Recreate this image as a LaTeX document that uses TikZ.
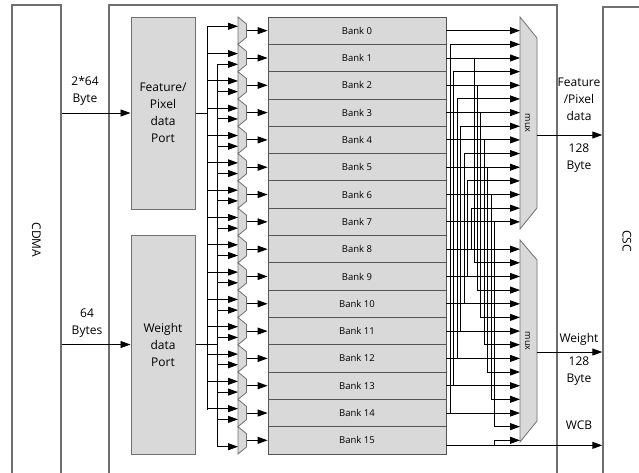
\documentclass[tikz,border=0pt]{standalone}
\usepackage{fontspec}
\setmainfont{Open Sans}
\usetikzlibrary{arrows.meta,calc}
\definecolor{fillg}{HTML}{D9D9D9}
\definecolor{edge}{HTML}{707070}
\definecolor{bedge}{HTML}{555555}
\begin{document}
\begin{tikzpicture}[x=1pt,y=-1pt,
  arr/.style={-{Triangle[length=10pt,width=7pt]}, line width=0.9pt, black},
  ln/.style={line width=0.9pt, black},
  outer/.style={draw=edge, line width=1.4pt, inner sep=0pt, font=\fontsize{12}{14}\selectfont},
  port/.style={draw=edge, line width=1pt, fill=fillg, minimum width=64pt, inner sep=0pt, align=center, font=\fontsize{12}{17}\selectfont},
  bank/.style={draw=bedge, line width=0.8pt, fill=fillg, minimum width=178pt, minimum height=27.3125pt, inner sep=0pt, font=\fontsize{9.5}{11}\selectfont},
  muxs/.style={draw=edge, line width=0.8pt, fill=fillg},
  muxl/.style={inner sep=0pt, font=\fontsize{9}{10}\selectfont},
  lbl/.style={align=center, font=\fontsize{12}{17}\selectfont, inner sep=0pt}
]
\clip (0,0) rectangle (639,472);
\useasboundingbox (0,0) rectangle (639,472);

% outer blocks
\node[outer, minimum width=49pt, minimum height=470pt] (cdma) at (36.5,240) {\rotatebox{-90}{CDMA}};
\node[outer, minimum width=448pt, minimum height=470pt] (core) at (333,240) {};
\node[outer, minimum width=48pt, minimum height=468pt] (csc) at (627,241) {\rotatebox{-90}{CSC}};

% ports
\node[port, minimum height=192pt] (fport) at (163,113) {Feature/\\Pixel\\data\\Port};
\node[port, minimum height=219pt] (wport) at (163,344.5) {Weight\\data\\Port};

\draw[arr] (fport.west -| cdma.east) -- (fport.west);
\draw[arr] (wport.west -| cdma.east) -- (wport.west);
\node[lbl] (lfin) at (85,90.5) {2*64\\Byte};
\node[lbl] (lwin) at (87,323.5) {64\\Bytes};

% buses
\coordinate (fbtop) at (207,26.3);
\coordinate (fbbot) at (207,409.7);
\coordinate (wbtop) at (217,64.3);
\coordinate (wbbot) at (217,446.7);
\draw[ln] (fbtop) -- (fbbot);
\draw[ln] (wbtop) -- (wbbot);
\draw[ln] (fport.east) -- (fport.east -| fbtop);
\draw[ln] (wport.east) -- (wport.east -| wbtop);

% banks and small muxes
\foreach \k in {0,...,15}{
  \pgfmathsetmacro\yc{17+27.3125*(\k+0.5)}
  \pgfmathsetmacro\yt{17+27.3125*\k}
  \pgfmathsetmacro\ytt{\yt+7}
  \pgfmathsetmacro\yb{\yt+27.3125}
  \pgfmathsetmacro\ybb{\yb-7}
  \pgfmathsetmacro\ya{\yt+9.3}
  \pgfmathsetmacro\yB{\yt+20}
  \node[bank] (bank\k) at (357,\yc) {Bank \k};
  \draw[muxs] (238,\yt) -- (246.5,\ytt) -- (246.5,\ybb) -- (238,\yb) -- cycle;
  \coordinate (so\k) at (246.5,\yc);
  \coordinate (sa\k) at (238,\ya);
  \coordinate (sb\k) at (238,\yB);
  \draw[arr] (so\k) -- (bank\k.west);
}
\foreach \k in {0,...,14}{
  \draw[arr] (sa\k -| fbtop) -- (sa\k);
}
\foreach \k in {1,...,15}{
  \draw[arr] (sb\k -| wbtop) -- (sb\k);
}

% big muxes
\draw[muxs] (520,17) -- (537,38) -- (537,208) -- (520,229) -- cycle;
\draw[muxs] (520,240) -- (537,260) -- (537,421) -- (520,442) -- cycle;
\node[muxl] (umux) at (527.5,123) {\rotatebox{-90}{mux}};
\node[muxl] (lmux) at (527.5,341) {\rotatebox{-90}{mux}};
\coordinate (umx) at (520,0);

% upper mux inputs
\foreach \k in {0,...,7}{
  \draw[arr] (bank\k.east) -- (bank\k.east -| umx);
}
\foreach \k in {0,...,6}{
  \pgfmathtruncatemacro\src{14-\k}
  \pgfmathsetmacro\xv{450+3.5*\k}
  \pgfmathsetmacro\yi{30.656+13.656*(2*\k+1)}
  \coordinate (uv\k) at (\xv,0);
  \coordinate (ui\k) at (520,\yi);
  \draw[arr] (bank\src.east -| uv\k) |- (ui\k);
}
% lower mux inputs
\foreach \k in {8,...,14}{
  \draw[arr] (bank\k.east) -- (bank\k.east -| umx);
}
\foreach \m in {0,...,6}{
  \pgfmathtruncatemacro\src{\m+1}
  \pgfmathsetmacro\xv{474+3.4*\m}
  \pgfmathsetmacro\yi{249.1+13.656*(2*\m+1)}
  \coordinate (lv\m) at (\xv,0);
  \coordinate (li\m) at (520,\yi);
  \draw[arr] (bank\src.east -| lv\m) |- (li\m);
}
\coordinate (b15o) at ($(bank15.east)+(0,5)$);
\coordinate (b15m) at (520,440.3);
\draw[arr] (b15o -| lv6) |- (b15m);
\draw[arr] (b15o) -- (b15o -| csc.west);

% outputs
\coordinate (uo) at (537,135);
\coordinate (lo) at (537,352);
\draw[arr] (uo) -- (uo -| csc.west);
\draw[arr] (lo) -- (lo -| csc.west);
\node[lbl] (lfo) at (579,99) {Feature\\/Pixel\\data};
\node[lbl] (lfb) at (579,158.5) {128\\Byte};
\node[lbl] (lwo) at (579,339) {Weight};
\node[lbl] (lwb) at (579,371.5) {128\\Byte};
\node[lbl] (lwcb) at (579,425) {WCB};
\end{tikzpicture}
\end{document}
